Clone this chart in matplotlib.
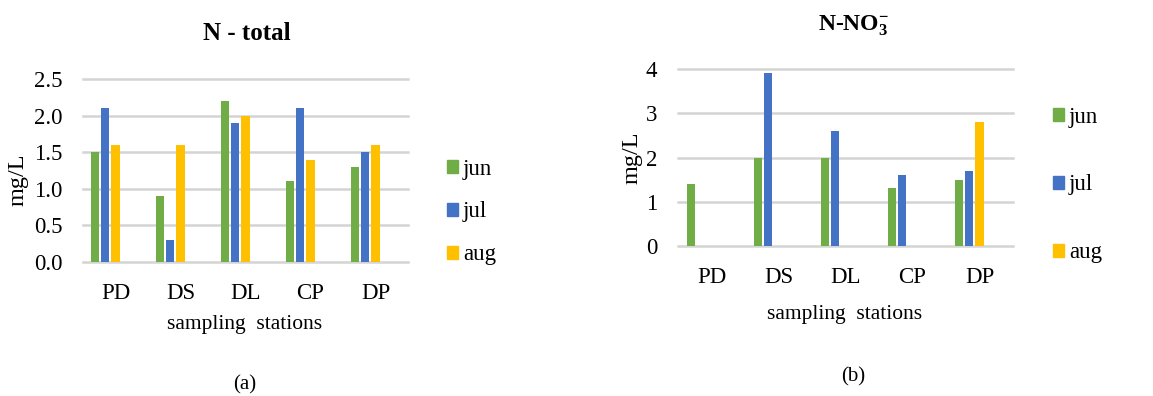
import matplotlib
matplotlib.use("Agg")
import matplotlib.pyplot as plt
from matplotlib.patches import Patch
import numpy as np

plt.rcParams['font.family'] = ['Liberation Serif', 'DejaVu Serif']
plt.rcParams['mathtext.fontset'] = 'custom'
plt.rcParams['mathtext.rm'] = 'Liberation Serif'
plt.rcParams['mathtext.bf'] = 'Liberation Serif:bold'

# ---- data ----
stations = ["PD", "DS", "DL", "CP", "DP"]
months = ["jun", "jul", "aug"]
colors = ["#70AD47", "#4472C4", "#FFC000"]

ntot_jun = [1.5, 0.9, 2.2, 1.1, 1.3]
ntot_jul = [2.1, 0.3, 1.9, 2.1, 1.5]
ntot_aug = [1.6, 1.6, 2.0, 1.4, 1.6]

no3_jun = [1.4, 2.0, 2.0, 1.3, 1.5]
no3_jul = [0.0, 3.9, 2.6, 1.6, 1.7]
no3_aug = [0.0, 0.0, 0.0, 0.0, 2.8]

ntot_ticks = [0.0, 0.5, 1.0, 1.5, 2.0, 2.5]
no3_ticks = [0, 1, 2, 3, 4]

W, H = 1153, 396
fig = plt.figure(figsize=(W / 100, H / 100), dpi=100)


def px(x0, y0, x1, y1):
    # pixel box (top-left origin) -> figure fraction rect
    return [x0 / W, 1 - y1 / H, (x1 - x0) / W, (y1 - y0) / H]


def bar_panel(ax, series, ticks, fmt):
    x = np.arange(len(stations))
    offsets = [-0.31, -0.155, 0.0]
    for vals, off, c in zip(series, offsets, colors):
        ax.bar(x + off, vals, width=0.125, color=c, zorder=3)
    ax.set_xlim(-0.5, len(stations) - 0.5)
    ax.set_ylim(ticks[0], ticks[-1])
    ax.set_yticks(ticks)
    ax.set_yticklabels([fmt.format(t) for t in ticks])
    ax.set_xticks(x)
    ax.set_xticklabels(stations)
    ax.tick_params(axis='y', length=0, pad=15, labelsize=16.5)
    ax.tick_params(axis='x', length=0, pad=15, labelsize=16.5)
    for s in ax.spines.values():
        s.set_visible(False)
    ax.yaxis.grid(True, color='#d4d4d4', linewidth=1.8, zorder=0)
    ax.set_axisbelow(True)
    for t in ax.yaxis.get_major_ticks():
        t.gridline.set_clip_on(False)


# ---- (a) N - total ----
ax1 = fig.add_axes(px(83, 79, 408, 262))
bar_panel(ax1, [ntot_jun, ntot_jul, ntot_aug], ntot_ticks, "{:.1f}")
fig.text(247 / W, 1 - 33 / H, "N - total", ha='center', va='center',
         fontsize=18, fontweight='bold')
fig.text(18 / W, 1 - 180 / H, "mg/L", rotation=90, ha='center', va='center', fontsize=17.5)
fig.text(245 / W, 1 - 325 / H, "sampling  stations", ha='center', va='center', fontsize=15.5)
fig.text(245 / W, 1 - 385 / H, "(a)", ha='center', va='center', fontsize=15)
handles = [Patch(color=c, label=m) for c, m in zip(colors, months)]
fig.legend(handles=handles, loc='center left', bbox_to_anchor=(447 / W, 1 - 212 / H),
           frameon=False, fontsize=16.5, borderpad=0, borderaxespad=0,
           handlelength=0.5, handleheight=0.5, handletextpad=0.2, labelspacing=0.95)

# ---- (b) N-NO3- ----
ax2 = fig.add_axes(px(678, 69, 1013, 246))
bar_panel(ax2, [no3_jun, no3_jul, no3_aug], no3_ticks, "{:d}")
fig.text(854 / W, 1 - 30 / H, r"N-NO$\mathbf{^{-}_{3}}$", ha='center', va='baseline',
         fontsize=17, fontweight='bold')
fig.text(632 / W, 1 - 158 / H, "mg/L", rotation=90, ha='center', va='center', fontsize=17.5)
fig.text(845 / W, 1 - 315 / H, "sampling  stations", ha='center', va='center', fontsize=15.5)
fig.text(853 / W, 1 - 377 / H, "(b)", ha='center', va='center', fontsize=15)
fig.legend(handles=handles, loc='center left', bbox_to_anchor=(1053 / W, 1 - 185 / H),
           frameon=False, fontsize=16.5, borderpad=0, borderaxespad=0,
           handlelength=0.5, handleheight=0.5, handletextpad=0.2, labelspacing=2.05)

fig.savefig("out.png", dpi=100)
